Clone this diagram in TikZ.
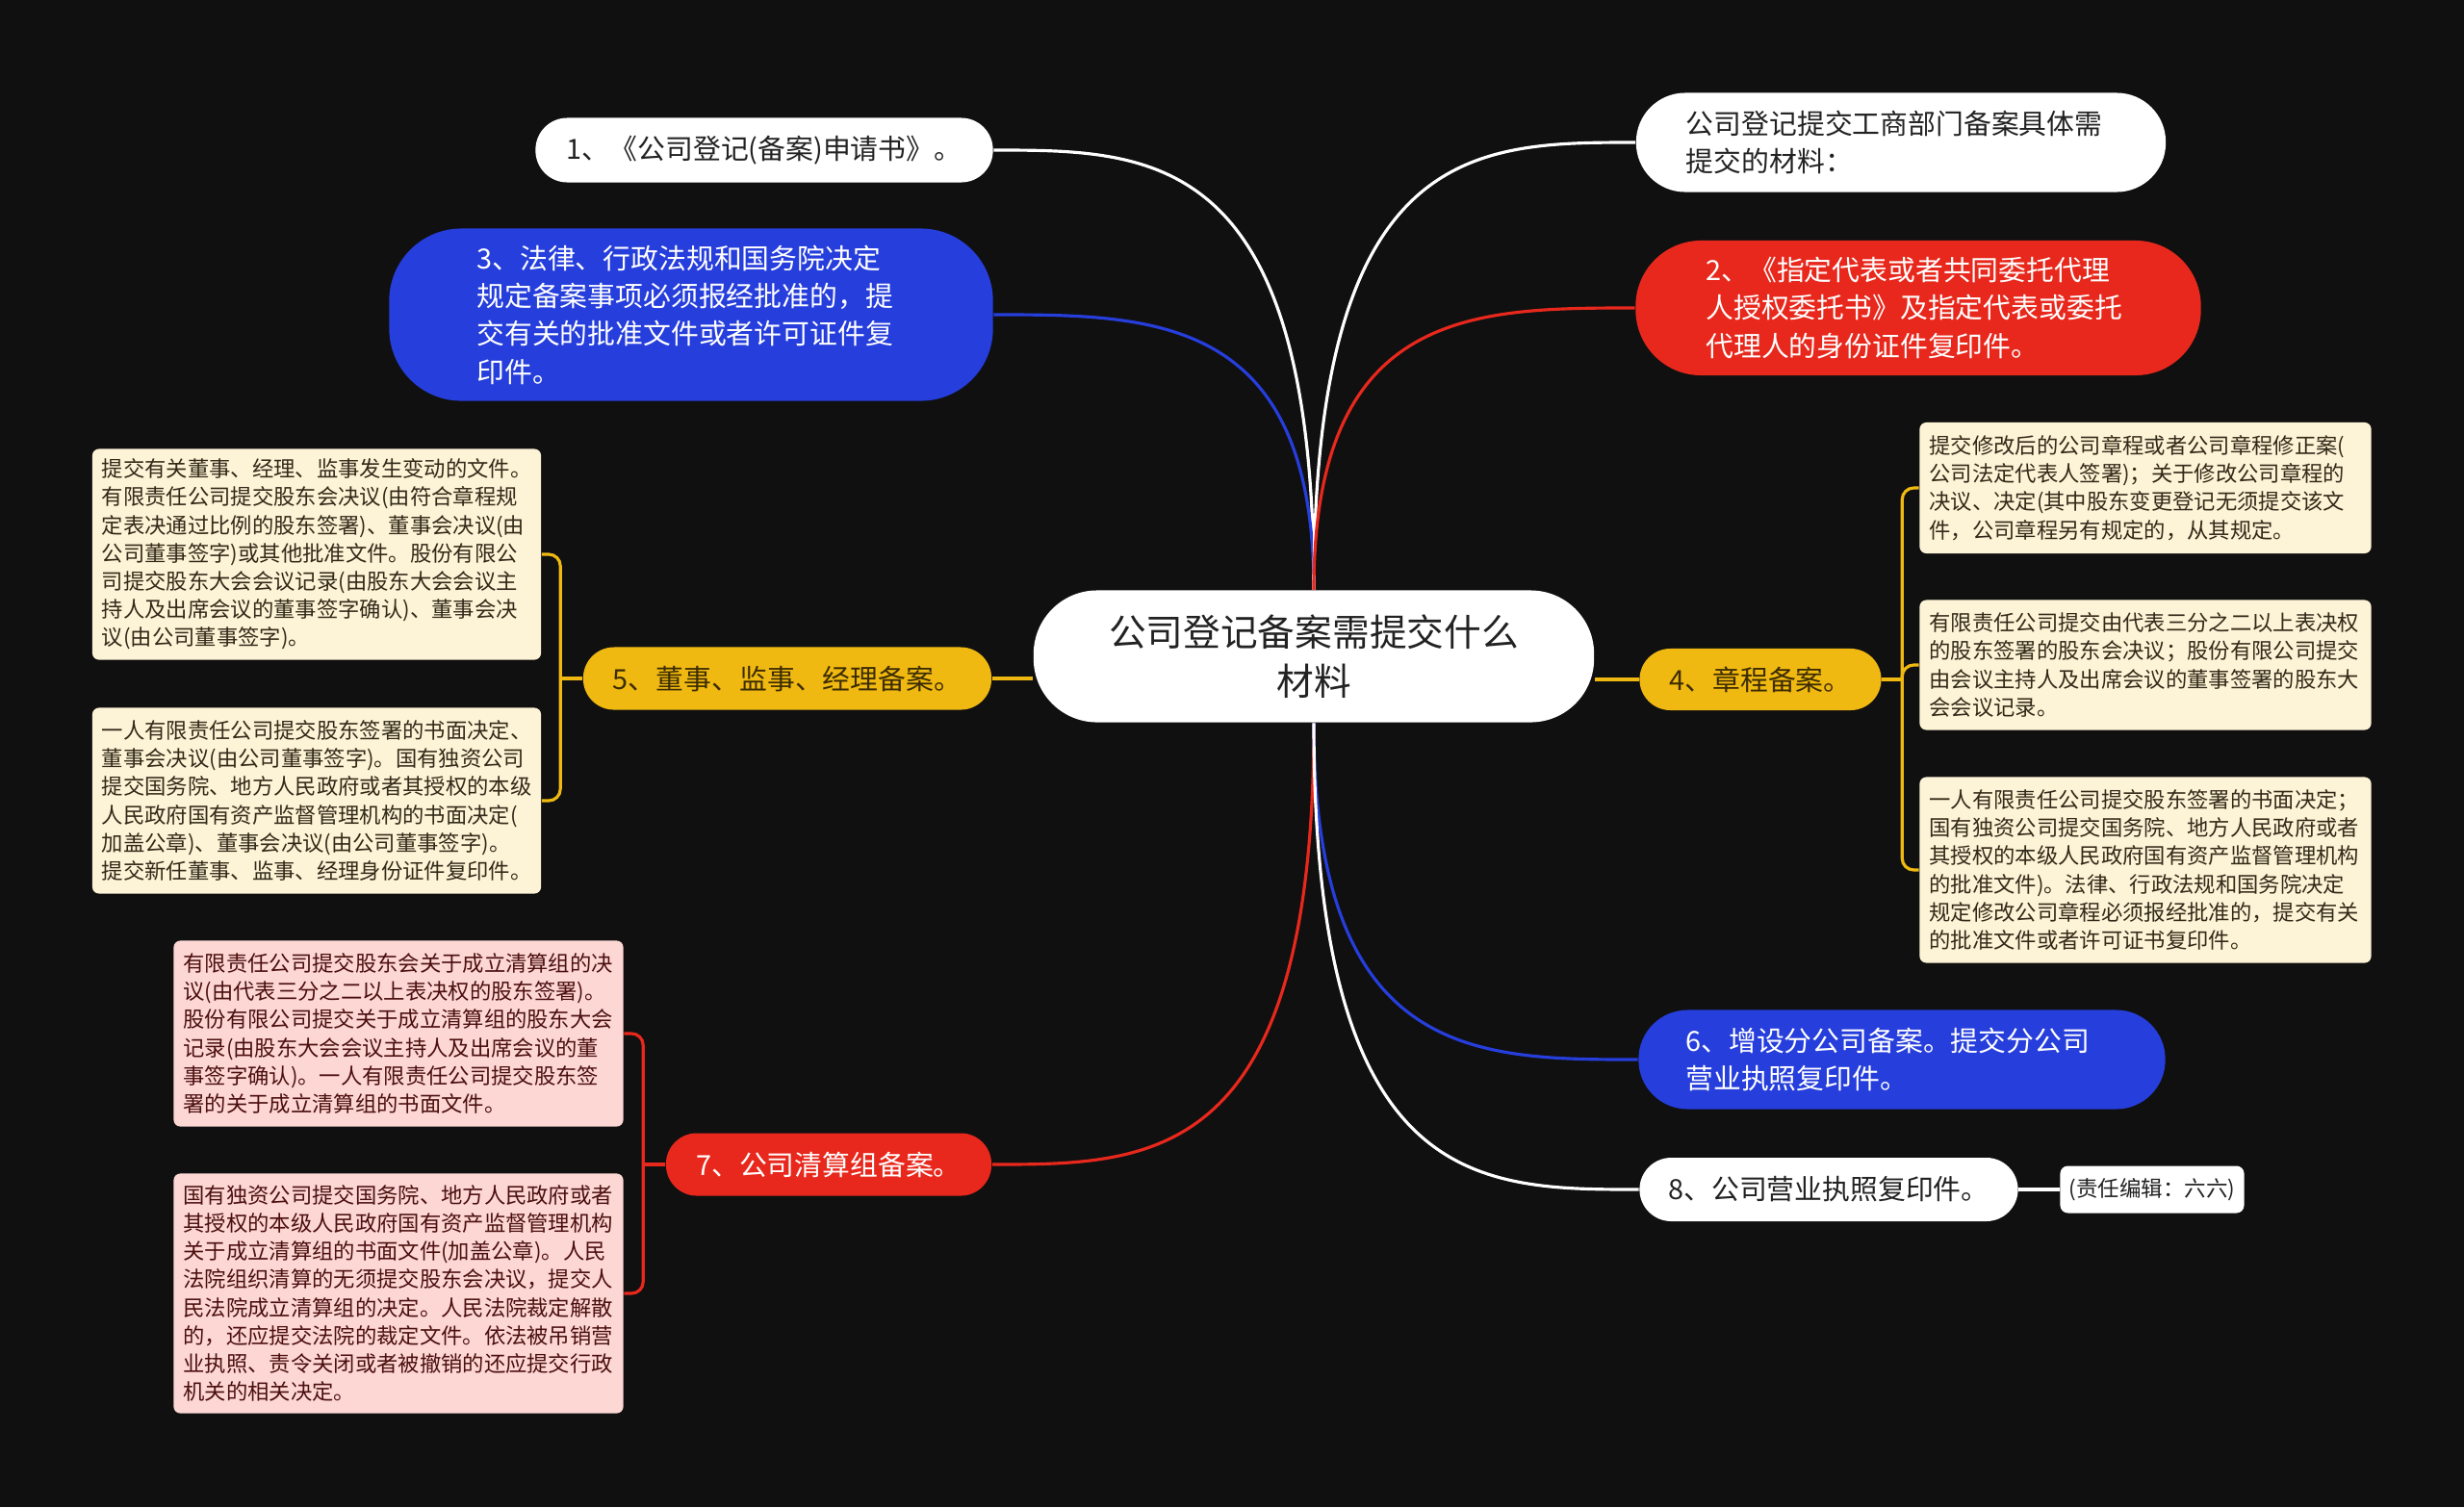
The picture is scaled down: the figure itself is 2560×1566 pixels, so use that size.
\documentclass[tikz,border=0pt]{standalone}
\usepackage{fontspec}
\setmainfont{Noto Sans CJK SC}
\usetikzlibrary{calc}
\definecolor{bg}{RGB}{16,16,16}
\definecolor{cblue}{RGB}{38,62,220}
\definecolor{cred}{RGB}{232,40,28}
\definecolor{cyel}{RGB}{240,185,18}
\definecolor{cream}{RGB}{253,243,214}
\definecolor{pinkc}{RGB}{253,215,212}
\definecolor{darktxt}{RGB}{34,34,34}
\definecolor{yeltxt}{RGB}{60,44,0}
\definecolor{creamtxt}{RGB}{50,42,25}
\definecolor{pinktxt}{RGB}{75,15,15}
\tikzset{
  base/.style={inner ysep=0pt, font=\fontsize{8.2}{11.2}\selectfont},
  wnode/.style={base, fill=white, text=darktxt},
  bnode/.style={base, fill=cblue, text=white},
  rnode/.style={base, fill=cred, text=white},
  ynode/.style={base, fill=cyel, text=yeltxt},
  leafy/.style={inner ysep=0pt, inner xsep=0.10cm, fill=cream, text=creamtxt, rounded corners=0.07cm, align=left, font=\fontsize{6.35}{8.3}\selectfont},
  leafp/.style={inner ysep=0pt, inner xsep=0.10cm, fill=pinkc, text=pinktxt, rounded corners=0.07cm, align=left, font=\fontsize{6.35}{8.3}\selectfont},
  conn/.style={line width=0.9pt},
}
\begin{document}
\begin{tikzpicture}[x=0.01cm,y=-0.01cm]
\useasboundingbox (0,0) rectangle (2560,1566);
\fill[bg] (0,0) rectangle (2560,1566);

% centre
\node[wnode, minimum width=5.82cm, minimum height=1.37cm, rounded corners=0.66cm, align=center, font=\fontsize{11}{14.4}\selectfont] (c) at (1365,682) {公司登记备案需提交什么\\材料};

% left branches
\node[wnode, minimum width=4.75cm, minimum height=0.67cm, rounded corners=0.33cm, inner xsep=0pt] (n1) at (794,156) {1、《公司登记(备案)申请书》。};
\node[bnode, text width=4.45cm, inner xsep=0.91cm, minimum height=1.79cm, rounded corners=0.75cm, align=left] (n3) at (718,327) {3、法律、行政法规和国务院决定\\规定备案事项必须报经批准的，提\\交有关的批准文件或者许可证件复\\印件。};
\node[ynode, minimum width=4.24cm, minimum height=0.65cm, rounded corners=0.32cm, inner xsep=0pt] (n5) at (818,705) {5、董事、监事、经理备案。};
\node[rnode, minimum width=3.38cm, minimum height=0.65cm, rounded corners=0.32cm, inner xsep=0pt] (n7) at (861,1210) {7、公司清算组备案。};

% right branches
\node[wnode, text width=4.46cm, inner xsep=0.52cm, minimum height=1.03cm, rounded corners=0.51cm, align=left] (n2) at (1975,148) {公司登记提交工商部门备案具体需\\提交的材料：};
\node[rnode, text width=4.41cm, inner xsep=0.73cm, minimum height=1.40cm, rounded corners=0.68cm, align=left] (nr) at (1993,320) {2、《指定代表或者共同委托代理\\人授权委托书》及指定代表或委托\\代理人的身份证件复印件。};
\node[ynode, minimum width=2.51cm, minimum height=0.64cm, rounded corners=0.32cm, inner xsep=0pt] (n4) at (1829,706) {4、章程备案。};
\node[bnode, text width=4.49cm, inner xsep=0.49cm, minimum height=1.03cm, rounded corners=0.51cm, align=left] (n6) at (1976,1101) {6、增设分公司备案。提交分公司\\营业执照复印件。};
\node[wnode, minimum width=3.93cm, minimum height=0.66cm, rounded corners=0.33cm, inner xsep=0pt] (n8) at (1900,1236) {8、公司营业执照复印件。};
\node[wnode, minimum width=1.91cm, minimum height=0.49cm, rounded corners=0.08cm, inner xsep=0pt, font=\fontsize{6.4}{8}\selectfont] (ed) at (2236,1236) {(责任编辑：六六)};

% leaves of 5
\node[leafy, text width=4.46cm, minimum height=2.19cm] (l5a) at (329,576) {提交有关董事、经理、监事发生变动的文件。\\有限责任公司提交股东会决议(由符合章程规\\定表决通过比例的股东签署)、董事会决议(由\\公司董事签字)或其他批准文件。股份有限公\\司提交股东大会会议记录(由股东大会会议主\\持人及出席会议的董事签字确认)、董事会决\\议(由公司董事签字)。};
\node[leafy, text width=4.46cm, minimum height=1.93cm] (l5b) at (329,832) {一人有限责任公司提交股东签署的书面决定、\\董事会决议(由公司董事签字)。国有独资公司\\提交国务院、地方人民政府或者其授权的本级\\人民政府国有资产监督管理机构的书面决定(\\加盖公章)、董事会决议(由公司董事签字)。\\提交新任董事、监事、经理身份证件复印件。};

% leaves of 7
\node[leafp, text width=4.47cm, minimum height=1.93cm] (l7a) at (414,1074) {有限责任公司提交股东会关于成立清算组的决\\议(由代表三分之二以上表决权的股东签署)。\\股份有限公司提交关于成立清算组的股东大会\\记录(由股东大会会议主持人及出席会议的董\\事签字确认)。一人有限责任公司提交股东签\\署的关于成立清算组的书面文件。};
\node[leafp, text width=4.47cm, minimum height=2.49cm] (l7b) at (414,1344) {国有独资公司提交国务院、地方人民政府或者\\其授权的本级人民政府国有资产监督管理机构\\关于成立清算组的书面文件(加盖公章)。人民\\法院组织清算的无须提交股东会决议，提交人\\民法院成立清算组的决定。人民法院裁定解散\\的，还应提交法院的裁定文件。依法被吊销营\\业执照、责令关闭或者被撤销的还应提交行政\\机关的相关决定。};

% leaves of 4
\node[leafy, text width=4.49cm, minimum height=1.36cm] (l4a) at (2229,507) {提交修改后的公司章程或者公司章程修正案(\\公司法定代表人签署)；关于修改公司章程的\\决议、决定(其中股东变更登记无须提交该文\\件，公司章程另有规定的，从其规定。};
\node[leafy, text width=4.49cm, minimum height=1.35cm] (l4b) at (2229,691) {有限责任公司提交由代表三分之二以上表决权\\的股东签署的股东会决议；股份有限公司提交\\由会议主持人及出席会议的董事签署的股东大\\会会议记录。};
\node[leafy, text width=4.49cm, minimum height=1.93cm] (l4c) at (2229,904) {一人有限责任公司提交股东签署的书面决定；\\国有独资公司提交国务院、地方人民政府或者\\其授权的本级人民政府国有资产监督管理机构\\的批准文件)。法律、行政法规和国务院决定\\规定修改公司章程必须报经批准的，提交有关\\的批准文件或者许可证书复印件。};

% centre connectors (top)
\draw[conn, white] (c.north) .. controls (c.north |- n1.east) and ($(c.north |- n1.east)!0.5!(n1.east)$) .. (n1.east);
\draw[conn, cblue] (c.north) .. controls (c.north |- n3.east) and ($(c.north |- n3.east)!0.5!(n3.east)$) .. (n3.east);
\draw[conn, white] (c.north) .. controls (c.north |- n2.west) and ($(c.north |- n2.west)!0.5!(n2.west)$) .. (n2.west);
\draw[conn, cred] (c.north) .. controls (c.north |- nr.west) and ($(c.north |- nr.west)!0.5!(nr.west)$) .. (nr.west);
% centre connectors (bottom)
\draw[conn, cred] (c.south) .. controls (c.south |- n7.east) and ($(c.south |- n7.east)!0.5!(n7.east)$) .. (n7.east);
\draw[conn, cblue] (c.south) .. controls (c.south |- n6.west) and ($(c.south |- n6.west)!0.5!(n6.west)$) .. (n6.west);
\draw[conn, white] (c.south) .. controls (c.south |- n8.west) and ($(c.south |- n8.west)!0.5!(n8.west)$) .. (n8.west);
% straight
\draw[conn, cyel] (n5.east) -- (n5.east -| c.west);
\draw[conn, cyel] (n4.west) -- (n4.west -| c.east);
\draw[conn, white] (n8.east) -- (ed.west);

% brackets
\coordinate (j5) at ($(n5.west)+(-23,0)$);
\draw[conn, cyel] (n5.west) -- (j5);
\draw[conn, cyel, rounded corners=0.12cm] (j5) |- (l5a.east);
\draw[conn, cyel, rounded corners=0.12cm] (j5) |- (l5b.east);

\coordinate (j4) at ($(n4.east)+(21,0)$);
\draw[conn, cyel] (n4.east) -- (j4);
\draw[conn, cyel, rounded corners=0.12cm] (j4) |- (l4a.west);
\draw[conn, cyel, rounded corners=0.12cm] (j4) |- (l4b.west);
\draw[conn, cyel, rounded corners=0.12cm] (j4) |- (l4c.west);

\coordinate (j7) at ($(n7.west)+(-23,0)$);
\draw[conn, cred] (n7.west) -- (j7);
\draw[conn, cred, rounded corners=0.12cm] (j7) |- (l7a.east);
\draw[conn, cred, rounded corners=0.12cm] (j7) |- (l7b.east);
\end{tikzpicture}
\end{document}
